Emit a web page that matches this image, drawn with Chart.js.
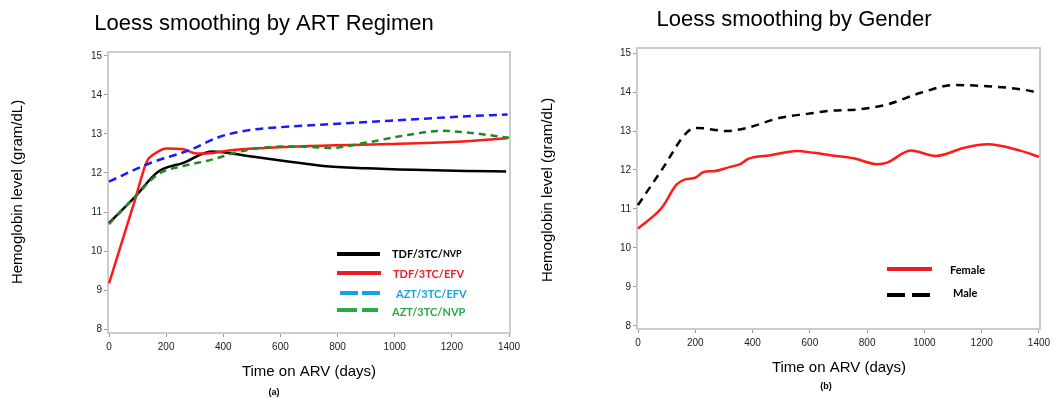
<!DOCTYPE html>
<html>
<head>
<meta charset="utf-8">
<title>Loess smoothing of hemoglobin</title>
<script src="https://cdn.jsdelivr.net/npm/chart.js@4.4.1/dist/chart.umd.min.js"></script>
<style>
  html, body { margin: 0; padding: 0; background: #fff; }
  #wrap { position: relative; width: 1059px; height: 398px; overflow: hidden; }
  canvas { position: absolute; top: 0; }
  #regimenChart { left: 0; }
  #genderChart { left: 530px; }
</style>
</head>
<body>
<div id="wrap">
  <canvas id="regimenChart" width="530" height="398"></canvas>
  <canvas id="genderChart" width="529" height="398"></canvas>
</div>
<script>
// tick labels shared by both panels
const dayTicks = [0, 200, 400, 600, 800, 1000, 1200, 1400];
const hbTicks = [8, 9, 10, 11, 12, 13, 14, 15];

// (a) by ART regimen
const tdfNvpDays = [0, 91, 172, 260, 360, 500, 633, 750, 900, 1065, 1250, 1390];
const tdfNvpHb = [10.72, 11.39, 12.03, 12.26, 12.55, 12.42, 12.29, 12.18, 12.12, 12.08, 12.05, 12.04];

const tdfEfvDays = [0, 91, 132, 161, 202, 260, 307, 342, 435, 633, 800, 983, 1217, 1395];
const tdfEfvHb = [9.17, 11.31, 12.29, 12.5, 12.63, 12.61, 12.5, 12.5, 12.59, 12.67, 12.71, 12.74, 12.8, 12.89];

const aztEfvDays = [0, 143, 283, 388, 493, 633, 800, 983, 1217, 1395];
const aztEfvHb = [11.78, 12.25, 12.59, 12.93, 13.1, 13.19, 13.26, 13.34, 13.44, 13.5];

const aztNvpDays = [0, 91, 172, 260, 354, 458, 575, 668, 773, 902, 1042, 1164, 1275, 1400];
const aztNvpHb = [10.69, 11.39, 11.97, 12.18, 12.33, 12.55, 12.67, 12.68, 12.64, 12.78, 12.97, 13.08, 13.02, 12.9];

// (b) by gender
const femaleDays = [0, 83, 135, 165, 200, 229, 264, 322, 357, 386, 462, 555, 614, 672, 753, 835, 870, 952, 1040, 1139, 1220, 1337, 1400];
const femaleHb = [10.5, 11.03, 11.63, 11.76, 11.8, 11.95, 11.97, 12.08, 12.15, 12.29, 12.38, 12.49, 12.44, 12.38, 12.3, 12.15, 12.19, 12.5, 12.36, 12.57, 12.66, 12.49, 12.34];

const maleDays = [0, 88, 170, 205, 310, 380, 497, 590, 672, 777, 870, 987, 1104, 1220, 1337, 1400];
const maleHb = [11.1, 12.06, 12.96, 13.08, 13.0, 13.08, 13.34, 13.44, 13.52, 13.56, 13.68, 13.98, 14.18, 14.15, 14.07, 13.98];

const FONT = "'Liberation Sans', Arial, sans-serif";
const LEGEND_FONT = "Lato, 'Liberation Sans', sans-serif";

function toPoints(days, hb) {
    return days.map((d, i) => ({ x: d, y: hb[i] }));
}

// frame around the plot, titles and the in-plot legend
const decorPlugin = {
    id: 'decor',
    beforeDatasetsDraw(chart) {
        const ca = chart.chartArea;
        const ctx = chart.ctx;
        ctx.save();
        ctx.strokeStyle = '#cccccc';
        ctx.lineWidth = 2;
        ctx.strokeRect(ca.left, ca.top, ca.right - ca.left, ca.bottom - ca.top);
        ctx.restore();
    },
    afterDraw(chart, args, opts) {
        const ctx = chart.ctx;
        ctx.save();
        ctx.fillStyle = '#000';
        ctx.textBaseline = 'middle';
        ctx.textAlign = 'center';

        ctx.font = '22px ' + FONT;
        ctx.fillText(opts.title, opts.titlePos[0], opts.titlePos[1]);

        ctx.font = '15px ' + FONT;
        ctx.fillText('Time on ARV (days)', opts.xTitlePos[0], opts.xTitlePos[1]);

        ctx.save();
        ctx.translate(opts.yTitlePos[0], opts.yTitlePos[1]);
        ctx.rotate(-Math.PI / 2);
        ctx.fillText('Hemoglobin level (gram/dL)', 0, 0);
        ctx.restore();

        ctx.font = 'bold 9px ' + FONT;
        ctx.fillText(opts.tag, opts.tagPos[0], opts.tagPos[1]);

        // legend
        opts.legend.forEach(item => {
            ctx.beginPath();
            ctx.setLineDash(item.dash || []);
            ctx.lineWidth = 4;
            ctx.strokeStyle = item.color;
            ctx.moveTo(item.x0, item.y);
            ctx.lineTo(item.x1, item.y);
            ctx.stroke();
            ctx.setLineDash([]);

            ctx.textAlign = 'left';
            ctx.fillStyle = item.textColor;
            ctx.font = 'bold 11px ' + LEGEND_FONT;
            ctx.fillText(item.label, item.tx, item.ty);
            if (item.small) {
                const w = ctx.measureText(item.label).width;
                ctx.font = 'bold 9px ' + LEGEND_FONT;
                ctx.fillText(item.small, item.tx + w, item.ty + 0.5);
            }
        });
        ctx.restore();
    }
};

function makeChart(canvasId, datasets, frame, decor) {
    const ctx = document.getElementById(canvasId).getContext('2d');
    return new Chart(ctx, {
        type: 'line',
        data: { datasets: datasets },
        options: {
            responsive: false,
            animation: false,
            devicePixelRatio: 1,
            layout: { padding: { top: frame.top, right: frame.right, left: 0, bottom: 0 } },
            elements: {
                point: { radius: 0 },
                line: { borderWidth: 2.5, cubicInterpolationMode: 'monotone', borderCapStyle: 'butt' }
            },
            plugins: {
                legend: { display: false },
                tooltip: { enabled: false },
                decor: decor
            },
            scales: {
                x: {
                    type: 'linear',
                    min: -3.5,
                    max: 1403.5,
                    afterBuildTicks: axis => { axis.ticks = dayTicks.map(v => ({ value: v })); },
                    afterFit: axis => { axis.height = frame.xHeight; },
                    grid: { drawOnChartArea: false, drawTicks: true, tickLength: 4, color: '#999' },
                    border: { display: false },
                    ticks: {
                        font: { family: FONT, size: 10 }, color: '#222', padding: 4, maxRotation: 0, autoSkip: false,
                        callback: v => String(v)
                    }
                },
                y: {
                    type: 'linear',
                    min: frame.yMin,
                    max: frame.yMax,
                    afterBuildTicks: axis => { axis.ticks = hbTicks.map(v => ({ value: v })); },
                    afterFit: axis => { axis.width = frame.yWidth; },
                    grid: { drawOnChartArea: false, drawTicks: true, tickLength: 4, color: '#999' },
                    border: { display: false },
                    ticks: {
                        font: { family: FONT, size: 10 }, color: '#222', padding: 2, autoSkip: false,
                        callback: v => String(v)
                    }
                }
            }
        },
        plugins: [decorPlugin]
    });
}

// green drawn on top, as in the original
makeChart('regimenChart', [
    { label: 'AZT/3TC/NVP', data: toPoints(aztNvpDays, aztNvpHb), borderColor: '#1f8a1f', borderDash: [7, 5] },
    { label: 'AZT/3TC/EFV', data: toPoints(aztEfvDays, aztEfvHb), borderColor: '#1a1aff', borderDash: [8, 5] },
    { label: 'TDF/3TC/EFV', data: toPoints(tdfEfvDays, tdfEfvHb), borderColor: '#ff1a1a' },
    { label: 'TDF/3TC/NVP', data: toPoints(tdfNvpDays, tdfNvpHb), borderColor: '#000000' }
], { top: 52, right: 20, yWidth: 108, xHeight: 65, yMin: 7.9, yMax: 15.1 }, {
    title: 'Loess smoothing by ART Regimen',
    titlePos: [264, 24],
    xTitlePos: [309, 372],
    yTitlePos: [18, 192],
    tag: '(a)',
    tagPos: [274, 393],
    legend: [
        { label: 'TDF/3TC/', small: 'NVP', color: '#000', textColor: '#000', x0: 337, x1: 380, y: 254, tx: 392, ty: 254 },
        { label: 'TDF/3TC/EFV', color: '#ee1c25', textColor: '#ee1c25', x0: 337, x1: 381, y: 273, tx: 393, ty: 274 },
        { label: 'AZT/3TC/EFV', color: '#1aa0e8', textColor: '#1ba1e2', dash: [18, 4], x0: 340, x1: 380, y: 293, tx: 396, ty: 294 },
        { label: 'AZT/3TC/NVP', color: '#2aaa4a', textColor: '#2ba84a', dash: [20, 5], x0: 337, x1: 378, y: 310, tx: 392, ty: 312 }
    ]
});

makeChart('genderChart', [
    { label: 'Male', data: toPoints(maleDays, maleHb), borderColor: '#000000', borderDash: [8, 6] },
    { label: 'Female', data: toPoints(femaleDays, femaleHb), borderColor: '#ff1a1a' }
], { top: 48, right: 19, yWidth: 107, xHeight: 69, yMin: 7.92, yMax: 15.13 }, {
    title: 'Loess smoothing by Gender',
    titlePos: [264, 20],
    xTitlePos: [309, 368],
    yTitlePos: [18, 190],
    tag: '(b)',
    tagPos: [296, 387],
    legend: [
        { label: 'Female', color: '#ee1c25', textColor: '#000', x0: 357, x1: 402, y: 269, tx: 420, ty: 270 },
        { label: 'Male', color: '#000', textColor: '#000', dash: [18, 7], x0: 357, x1: 402, y: 295, tx: 423, ty: 293 }
    ]
});
</script>
</body>
</html>
